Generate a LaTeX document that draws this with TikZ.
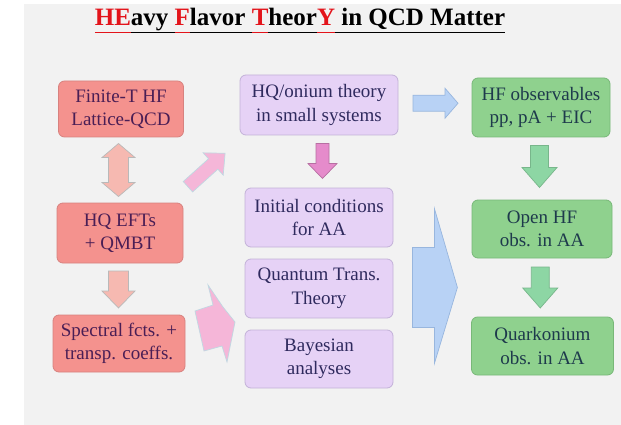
\documentclass[tikz,border=0pt]{standalone}
\usepackage{fontspec}
\setmainfont{LiberationSerif}[Extension=.ttf, UprightFont=*-Regular, BoldFont=*-Bold,
  ItalicFont=*-Italic, BoldItalicFont=*-BoldItalic]
\usetikzlibrary{calc}
\definecolor{panelgray}{HTML}{F2F2F2}
\definecolor{titlered}{HTML}{E3141B}
\definecolor{redfill}{HTML}{F4928E}
\definecolor{redline}{HTML}{D7827F}
\definecolor{redtext}{HTML}{4A1E55}
\definecolor{purpfill}{HTML}{E6D2F6}
\definecolor{purpline}{HTML}{C3B2D8}
\definecolor{purptext}{HTML}{2F2A5E}
\definecolor{greenfill}{HTML}{8FD18E}
\definecolor{greenline}{HTML}{78B878}
\definecolor{greentext}{HTML}{1E3A4C}
\definecolor{salmonarr}{HTML}{F6B9B1}
\definecolor{pinkarr}{HTML}{F5B6D8}
\definecolor{magarr}{HTML}{E58BCB}
\definecolor{bluearr}{HTML}{B8D2F5}
\definecolor{bluearrline}{HTML}{98B6DE}
\definecolor{mintarr}{HTML}{8DD6A4}
\newcommand{\tul}[1]{\underline{#1\vphantom{y}}}
\tikzset{
  hfbox/.style={rounded corners=6pt, line width=0.8pt, inner sep=3pt,
                align=center, font=\fontsize{19}{23.5}\selectfont},
  latbox/.style={hfbox, draw=redline, fill=redfill, text=redtext},
  aabox/.style={hfbox, draw=purpline, fill=purpfill, text=purptext},
  obsbox/.style={hfbox, draw=greenline, fill=greenfill, text=greentext},
  blkarr/.style={line width=0.7pt, line join=miter},
  salarr/.style={blkarr, draw=gray!55, fill=salmonarr},
  pkarr/.style={blkarr, draw=gray!60!cyan!40, fill=pinkarr},
  mgarr/.style={blkarr, draw=magarr!80!black, fill=magarr},
  blarr/.style={blkarr, draw=bluearrline, fill=bluearr},
  mtarr/.style={blkarr, draw=mintarr!85!black, fill=mintarr},
}
\begin{document}
\begin{tikzpicture}[x=1pt,y=-1pt]
\useasboundingbox (0,0) rectangle (621,425);
\fill[panelgray] (24,4) rectangle (621,425);
\node[font=\bfseries\fontsize{25}{30}\selectfont] (title) at (300,20.5)
  {\textcolor{titlered}{\tul{HE}}\tul{avy }\textcolor{titlered}{\tul{F}}\tul{lavor }%
   \textcolor{titlered}{\tul{T}}\tul{heor}\textcolor{titlered}{\tul{Y}}\tul{ in QCD Matter}};
\node[latbox, minimum width=125, minimum height=56] (fthf) at (121,109) {Finite-T HF\\Lattice-QCD};
\node[latbox, minimum width=126, minimum height=60] (eft) at (120,233) {HQ EFTs\\+ QMBT};
\node[latbox, minimum width=132, minimum height=57] (spec) at (119,343.5) {Spectral fcts. +\\transp. coeffs.};
\node[aabox, minimum width=158, minimum height=60] (small) at (319,105) {HQ/onium theory\\in small systems};
\node[aabox, minimum width=148, minimum height=59] (init) at (319,217.5) {Initial conditions\\for AA};
\node[aabox, minimum width=148, minimum height=59] (qtt) at (319,288.5) {Quantum Trans.\\Theory};
\node[aabox, minimum width=148, minimum height=58] (bayes) at (319,359) {Bayesian\\analyses};
\node[obsbox, minimum width=138, minimum height=59] (obspp) at (541,107.5) {HF observables\\pp, pA + EIC};
\node[obsbox, minimum width=140, minimum height=58] (openhf) at (542,229) {Open HF\\obs. in AA};
\node[obsbox, minimum width=142, minimum height=58] (quark) at (542.5,346) {Quarkonium\\obs. in AA};
\coordinate (d1) at ($(fthf.south)!0.5!(eft.north)+(-2,0)$);
\coordinate (d2) at ($(eft.south)!0.5!(spec.north)+(-1,0)$);
\coordinate (d3) at ($(eft.north east)!0.5!(small.south west)+(-5,1)$);
\coordinate (d4) at ($(small.south)!0.5!(init.north)$);
\coordinate (d5) at ($(small.east)!0.5!(obspp.west)$);
\coordinate (bb) at ($(qtt.east)+(19,-1)$);
\coordinate (d6) at ($(obspp.south)!0.5!(openhf.north)$);
\coordinate (d7) at ($(openhf.south)!0.5!(quark.north)$);
\draw[salarr] ($(d1)+(0,-26.5)$) -- ++(16.5,14) -- ++(-6.5,0) -- ++(0,25) -- ++(6.5,0)
  -- ++(-16.5,14) -- ++(-16.5,-14) -- ++(6.5,0) -- ++(0,-25) -- ++(-6.5,0) -- cycle;
\draw[salarr] ($(d2)+(-10,-18)$) -- ++(20,0) -- ++(0,20) -- ++(6.5,0) -- ++(-16.5,17)
  -- ++(-16.5,-17) -- ++(6.5,0) -- cycle;
\begin{scope}[shift={(d3)}, rotate=42]
  \draw[pkarr] (-25,-7) -- (9,-7) -- (9,-15) -- (25,0) -- (9,15) -- (9,7) -- (-25,7) -- cycle;
\end{scope}
\draw[pkarr] (208,285) -- (223,307) -- (235,322) -- (227,362) -- (222,346) -- (204,351)
  -- (195,311) -- (213,305) -- cycle;
\draw[mgarr] ($(d4)+(-3,-18)$) -- ++(13,0) -- ++(0,20) -- ++(8,0) -- ++(-14.5,15)
  -- ++(-14.5,-15) -- ++(8,0) -- cycle;
\draw[blarr] ($(d5)+(-22,-11)$) -- ++(32,0) -- ++(0,-7) -- ++(13,15) -- ++(-13,15)
  -- ++(0,-7) -- ++(-32,0) -- cycle;
\draw[blarr] ($(bb)+(0,-40)$) -- ++(22,0) -- ++(0,-39) -- ++(23,79) -- ++(-23,76)
  -- ++(0,-36) -- ++(-22,0) -- cycle;
\draw[mtarr] ($(d6)+(-11,-23)$) -- ++(18,0) -- ++(0,22) -- ++(8.5,0) -- ++(-17.5,20)
  -- ++(-17.5,-20) -- ++(8.5,0) -- cycle;
\draw[mtarr] ($(d7)+(-11,-20.5)$) -- ++(18,0) -- ++(0,21) -- ++(8.5,0) -- ++(-17.5,20)
  -- ++(-17.5,-20) -- ++(8.5,0) -- cycle;
\end{tikzpicture}
\end{document}
